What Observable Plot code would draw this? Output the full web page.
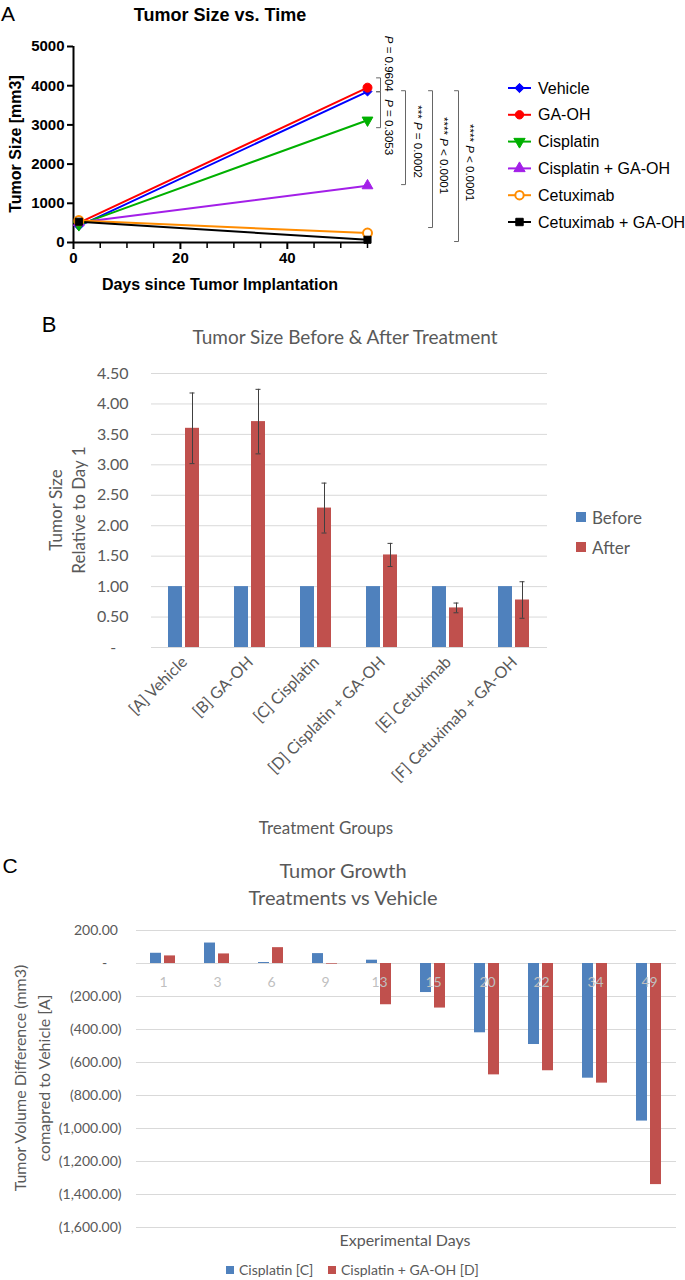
<!DOCTYPE html>
<html><head><meta charset="utf-8">
<script src="https://cdn.jsdelivr.net/npm/d3@7"></script>
<script src="https://cdn.jsdelivr.net/npm/@observablehq/plot@0.6"></script>
<style>
body{margin:0;background:#fff;}
#root{position:relative;width:685px;height:1280px;overflow:hidden;background:#fff;}
.abs{position:absolute;white-space:nowrap;line-height:1;}
</style></head><body><div id="root"></div>
<script>
// ---------- DATA ----------
// Panel A
const seriesA = ["Vehicle","GA-OH","Cisplatin","Cisplatin + GA-OH","Cetuximab","Cetuximab + GA-OH"];
const daysA = [1, 55];
const startA = [420, 500, 450, 510, 560, 530];
const endA = [3850, 3950, 3120, 1450, 240, 70];
const xTicksA = [0, 20, 40];
const xMinorA = [5, 10, 15, 25, 30, 35, 45, 50, 55];
const yTicksA = [0, 1000, 2000, 3000, 4000, 5000];
const bracketTop = [4200, 3846, 3872, 3872, 3872];
const bracketBottom = [3846, 2929, 1477, 382, 25];
const bracketText = ["P = 0.9604", "P = 0.3053", "*** P = 0.0002", "**** P < 0.0001", "**** P < 0.0001"];
const bracketTextY = [4560, 2942, 2573, 2216, 2037];
// Panel B
const groupsB = ["[A] Vehicle","[B] GA-OH","[C] Cisplatin","[D] Cisplatin + GA-OH","[E] Cetuximab","[F] Cetuximab + GA-OH"];
const phasesB = ["Before", "After"];
const beforeB = [1, 1, 1, 1, 1, 1];
const afterB = [3.60, 3.71, 2.29, 1.52, 0.65, 0.78];
const errB = [0.58, 0.53, 0.41, 0.19, 0.08, 0.30];
const yTicksB = [0, 0.5, 1, 1.5, 2, 2.5, 3, 3.5, 4, 4.5];
// Panel C
const daysC = [1, 3, 6, 9, 13, 15, 20, 22, 34, 49];
const seriesC = ["Cisplatin [C]", "Cisplatin + GA-OH [D]"];
const cisC = [62, 124, 6, 60, 20, -176, -420, -491, -695, -955];
const cisGaC = [46, 58, 96, -4, -250, -270, -675, -650, -725, -1340];
const yTicksC = [200, 0, -200, -400, -600, -800, -1000, -1200, -1400, -1600];

// ---------- STYLE ----------
const root = document.getElementById("root");
const colorsA = ["#0000FF", "#FF0000", "#00B000", "#A31FE8", "#FF8C00", "#000000"];
const blue = "#4F81BD", red = "#C0504D", grey = "#595959", grid = "#D9D9D9";
const triDown = {draw(ctx, size) {const y = -Math.sqrt(size / (Math.sqrt(3) * 3)); ctx.moveTo(0, -2 * y); ctx.lineTo(-Math.sqrt(3) * y, y); ctx.lineTo(Math.sqrt(3) * y, y); ctx.closePath();}};
const symbolsA = ["diamond2", "circle", triDown, "triangle", "circle", "square"];
const d3Sym = {diamond2: d3.symbolDiamond2, circle: d3.symbolCircle, triangle: d3.symbolTriangle, square: d3.symbolSquare};
const fillsA = colorsA.map((c, i) => seriesA[i] === "Cetuximab" ? "white" : c);
const bracketDx = [13, 13, 38, 65, 91];
const textDx = [21, 21, 50, 76, 102];
const ARIAL = "'Liberation Sans', Arial, sans-serif";
const CAL = "Lato, 'Open Sans', sans-serif";

function label(text, x, y, style = {}, rotate = 0) {
  const d = document.createElement("div");
  d.className = "abs";
  d.textContent = text;
  Object.assign(d.style, {left: x + "px", top: y + "px", transform: `translate(-50%,-50%)${rotate ? ` rotate(${rotate}deg)` : ""}`}, style);
  root.appendChild(d);
  return d;
}
function place(svg, x, y) {
  svg.style.position = "absolute"; svg.style.left = x + "px"; svg.style.top = y + "px";
  root.appendChild(svg);
}

// ---------- PANEL A ----------
const rowsA = seriesA.flatMap((s, i) => [{s, day: daysA[0], v: startA[i]}, {s, day: daysA[1], v: endA[i]}]);
const bracketsA = bracketTop.map((t, i) => ({t, b: bracketBottom[i], text: bracketText[i], ty: bracketTextY[i]}));
const svgA = Plot.plot({
  width: 480, height: 300,
  marginLeft: 73, marginRight: 113, marginTop: 46, marginBottom: 58,
  x: {domain: [0, 55]},
  y: {domain: [0, 5000]},
  style: {fontFamily: ARIAL, fontWeight: "bold", color: "#000", background: "transparent", overflow: "visible"},
  marks: [
    Plot.axisY(yTicksA, {tickSize: 6, tickPadding: 3, strokeWidth: 2, fontSize: 15, tickFormat: d => String(d), label: null}),
    Plot.axisX(xTicksA, {tickSize: 7, tickPadding: 3, strokeWidth: 2, fontSize: 15, tickFormat: d => String(d), label: null}),
    Plot.axisX(xMinorA, {tickSize: 6, strokeWidth: 1.5, tickFormat: () => "", label: null}),
    Plot.ruleX([0], {strokeWidth: 2}),
    Plot.ruleY([0], {strokeWidth: 2}),
    ...seriesA.map((s, i) => Plot.line(rowsA.filter(d => d.s === s), {x: "day", y: "v", stroke: colorsA[i], strokeWidth: 2})),
    ...seriesA.map((s, i) => Plot.dot(rowsA.filter(d => d.s === s), {x: "day", y: "v", symbol: symbolsA[i], r: symbolsA[i] === "circle" ? 4.5 : 4, fill: fillsA[i], stroke: colorsA[i], strokeWidth: seriesA[i] === "Cetuximab" ? 2 : 1})),
    ...bracketsA.map((b, i) => Plot.line([{x: 55, y: b.t}, {x: 55.75, y: b.t}, {x: 55.75, y: b.b}, {x: 55, y: b.b}], {x: "x", y: "y", dx: bracketDx[i] - 4, stroke: "#666", strokeWidth: 1, clip: false})),
    ...bracketsA.map((b, i) => Plot.text([b], {x: () => 55, y: "ty", text: "text", rotate: 90, dx: textDx[i], fontSize: 11.5, fontWeight: "normal", fill: "#000"}))
  ]
});
d3.select(svgA).selectAll("text").each(function () {
  const t = this.textContent;
  if (/P [=<]/.test(t) && this.childElementCount === 0) {
    const k = t.indexOf("P");
    this.textContent = "";
    const s = d3.select(this);
    if (k > 0) s.append("tspan").text(t.slice(0, k));
    s.append("tspan").attr("font-style", "italic").text("P");
    s.append("tspan").text(t.slice(k + 1));
  }
});
place(svgA, 0, 0);
label("A", 8, 13, {fontFamily: ARIAL, fontSize: "21px"});
label("Tumor Size vs. Time", 220, 15, {fontFamily: ARIAL, fontSize: "18px", fontWeight: "bold"});
label("Tumor Size [mm3]", 16, 144, {fontFamily: ARIAL, fontSize: "16px", fontWeight: "bold"}, -90);
label("Days since Tumor Implantation", 220, 285, {fontFamily: ARIAL, fontSize: "16px", fontWeight: "bold"});

// legend A
const legA = d3.create("svg").attr("width", 185).attr("height", 170);
seriesA.forEach((s, i) => {
  const cy = 13 + i * 26.8;
  const g = legA.append("g").attr("transform", `translate(0,${cy})`);
  g.append("line").attr("x1", 8).attr("x2", 31).attr("stroke", colorsA[i]).attr("stroke-width", 2);
  const sym = typeof symbolsA[i] === "string" ? d3Sym[symbolsA[i]] : symbolsA[i];
  g.append("path").attr("transform", "translate(19.5,0)").attr("d", d3.symbol(sym, 55)())
    .attr("fill", fillsA[i]).attr("stroke", colorsA[i]).attr("stroke-width", s === "Cetuximab" ? 2 : 1);
  g.append("text").attr("x", 38).attr("dy", "0.35em").attr("font-family", ARIAL).attr("font-size", 16).text(s);
});
place(legA.node(), 500, 75);

// ---------- PANEL B ----------
const rowsB = groupsB.flatMap((g, i) => [{g, phase: phasesB[0], v: beforeB[i]}, {g, phase: phasesB[1], v: afterB[i]}]);
const errRowsB = groupsB.map((g, i) => ({g, phase: phasesB[1], lo: afterB[i] - errB[i], hi: afterB[i] + errB[i]}));
const fmtB = v => v === 0 ? "-\u00a0\u00a0\u00a0" : v.toFixed(2);
const svgB = Plot.plot({
  width: 685, height: 460,
  marginLeft: 151, marginRight: 138, marginTop: 23, marginBottom: 163,
  fx: {domain: groupsB, padding: 0, axis: "bottom", tickRotate: -45, tickSize: 0, tickPadding: 12, label: null},
  x: {domain: phasesB, paddingInner: 0.17, paddingOuter: 0.97, axis: null},
  y: {domain: [0, 4.5]},
  color: {domain: phasesB, range: [blue, red]},
  style: {fontFamily: CAL, fontSize: "16px", color: grey, background: "transparent", overflow: "visible"},
  marks: [
    Plot.gridY(yTicksB, {stroke: grid, strokeOpacity: 1}),
    Plot.axisY(yTicksB, {tickSize: 0, tickPadding: 23, tickFormat: fmtB, label: null}),
    Plot.barY(rowsB, {fx: "g", x: "phase", y: "v", fill: "phase"}),
    Plot.ruleX(errRowsB, {fx: "g", x: "phase", y1: "lo", y2: "hi", stroke: "#404040", strokeWidth: 1}),
    Plot.tickY(errRowsB, {fx: "g", x: "phase", y: "lo", insetLeft: 4.5, insetRight: 4.5, stroke: "#404040"}),
    Plot.tickY(errRowsB, {fx: "g", x: "phase", y: "hi", insetLeft: 4.5, insetRight: 4.5, stroke: "#404040"})
  ]
});
place(svgB, 0, 350);
label("B", 49, 325, {fontFamily: ARIAL, fontSize: "22px"});
label("Tumor Size Before & After Treatment", 345, 336, {fontFamily: CAL, fontSize: "19px", color: grey});
label("Tumor Size\nRelative to Day 1", 66.5, 510, {fontFamily: CAL, fontSize: "17px", color: grey, whiteSpace: "pre", textAlign: "center", lineHeight: "23px"}, -90);
label("Treatment Groups", 326, 827, {fontFamily: CAL, fontSize: "17px", color: grey});
phasesB.forEach((p, i) => {
  const y = 517 + i * 30;
  const sq = document.createElement("div");
  Object.assign(sq.style, {position: "absolute", left: "576px", top: (y - 5) + "px", width: "10px", height: "10px", background: i ? red : blue});
  root.appendChild(sq);
  const t = label(p, 0, y, {fontFamily: CAL, fontSize: "17px", color: grey});
  t.style.left = "592px"; t.style.transform = "translate(0,-50%)";
});

// ---------- PANEL C ----------
const rowsC = daysC.flatMap((d, i) => [{d, s: seriesC[0], v: cisC[i]}, {d, s: seriesC[1], v: cisGaC[i]}]);
const fmtC = v => v === 0 ? "-\u00a0\u00a0\u00a0\u00a0" : v < 0 ? `(${d3.format(",.2f")(-v)})` : d3.format(",.2f")(v) + "\u00a0";
const svgC = Plot.plot({
  width: 685, height: 332,
  marginLeft: 132, marginRight: 6, marginTop: 25, marginBottom: 10,
  fx: {domain: daysC, padding: 0, axis: null},
  x: {domain: seriesC, paddingInner: 0.2, paddingOuter: 0.92, axis: null},
  y: {domain: [-1600, 200]},
  color: {domain: seriesC, range: [blue, red]},
  style: {fontFamily: CAL, fontSize: "14px", color: grey, background: "transparent", overflow: "visible"},
  marks: [
    Plot.gridY(yTicksC, {stroke: grid, strokeOpacity: 1}),
    Plot.axisY(yTicksC, {tickSize: 0, tickPadding: 15, tickFormat: fmtC, label: null}),
    Plot.barY(rowsC, {fx: "d", x: "s", y: "v", fill: "s"}),
    Plot.text(daysC, {fx: d => d, y: () => 0, dy: 19, text: d => String(d), fill: "#BFBFBF", fontSize: 14})
  ]
});
place(svgC, 0, 905);
label("C", 10, 865, {fontFamily: ARIAL, fontSize: "21px"});
label("Tumor Growth", 343, 870, {fontFamily: CAL, fontSize: "20px", color: grey});
label("Treatments vs Vehicle", 343, 897, {fontFamily: CAL, fontSize: "20px", color: grey});
label("Tumor Volume Difference (mm3)\ncomapred to Vehicle [A]", 32, 1078, {fontFamily: CAL, fontSize: "16px", color: grey, whiteSpace: "pre", textAlign: "center", lineHeight: "24px"}, -90);
label("Experimental Days", 405, 1240, {fontFamily: CAL, fontSize: "16px", color: grey});
[[226, 239], [328, 341]].forEach(([sx, tx], i) => {
  const sq = document.createElement("div");
  Object.assign(sq.style, {position: "absolute", left: sx + "px", top: "1266px", width: "8px", height: "8px", background: i ? red : blue});
  root.appendChild(sq);
  const t = label(seriesC[i], 0, 1270, {fontFamily: CAL, fontSize: "14px", color: grey});
  t.style.left = tx + "px"; t.style.transform = "translate(0,-50%)";
});
</script></body></html>
